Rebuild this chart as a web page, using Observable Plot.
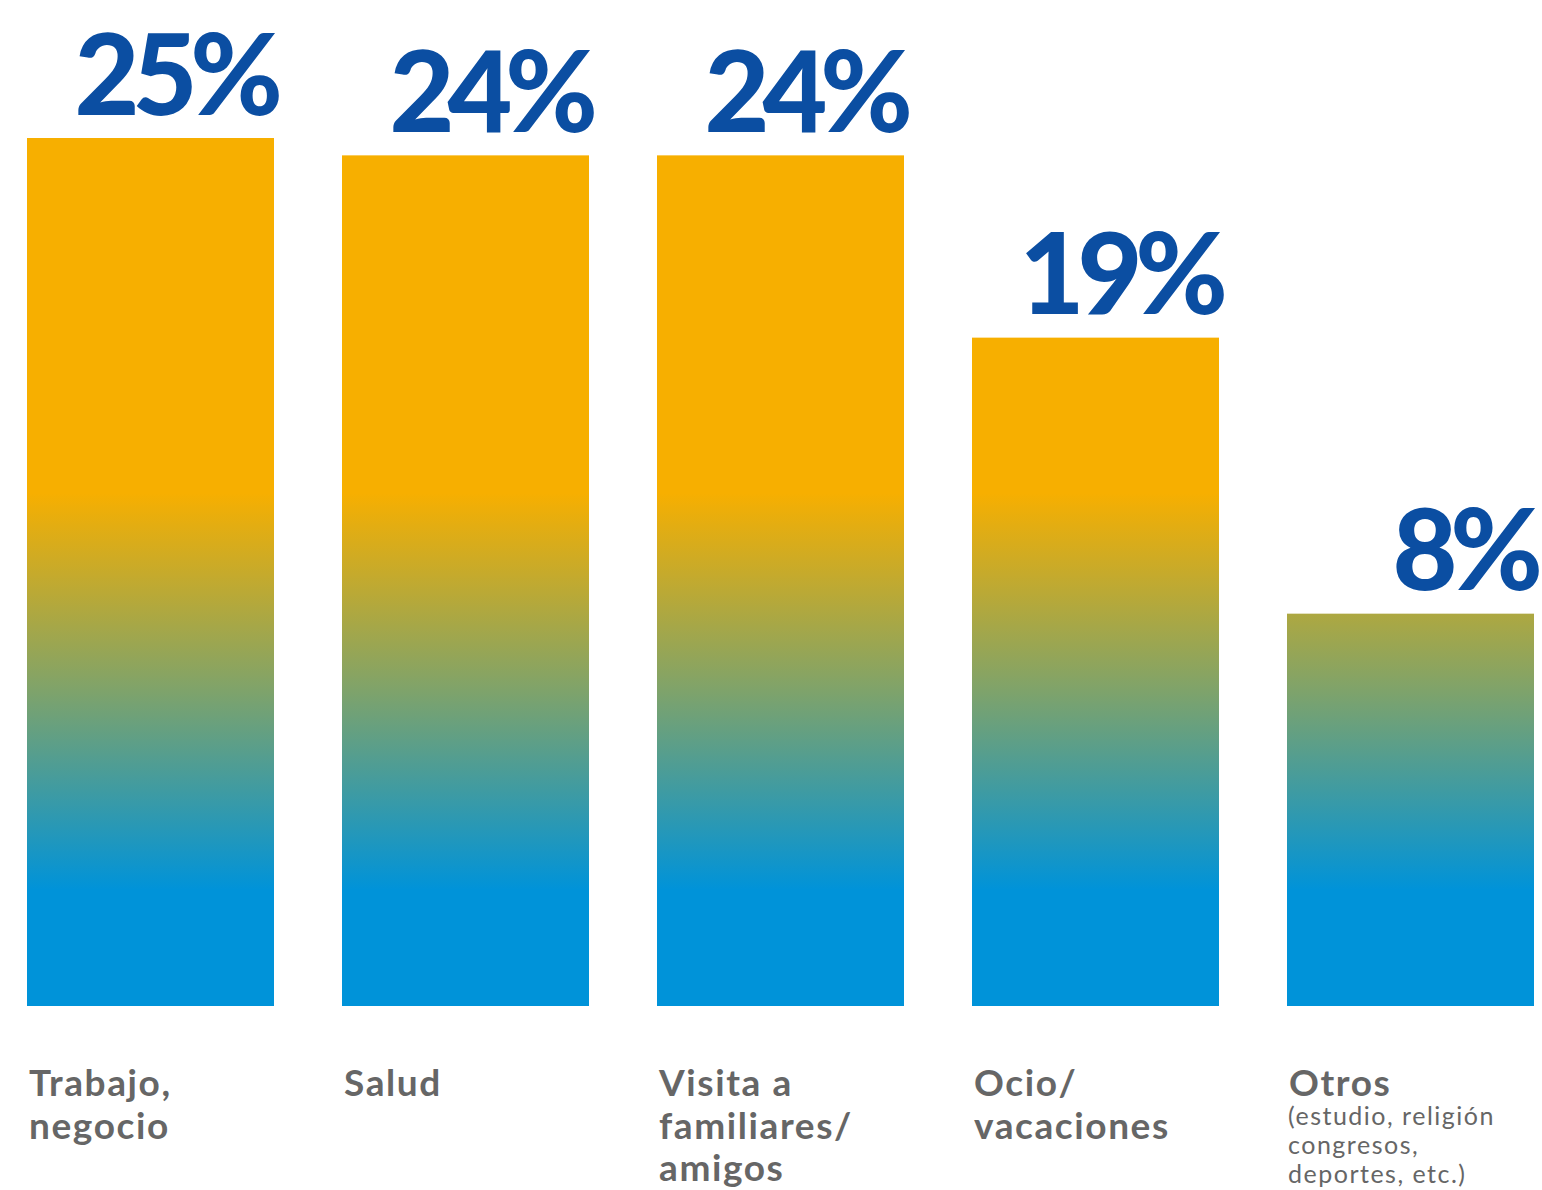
<!DOCTYPE html>
<html>
<head>
<meta charset="utf-8">
<script src="https://cdn.jsdelivr.net/npm/d3@7"></script>
<script src="https://cdn.jsdelivr.net/npm/@observablehq/plot@0.6"></script>
<style>
  html, body { margin: 0; padding: 0; background: #fff; }
  #chart svg { display: block; }
</style>
</head>
<body>
<div id="chart"></div>
<script>
// Categories (as shown under each bar)
const categories = ["Trabajo,\nnegocio", "Salud", "Visita a\nfamiliares/\namigos", "Ocio/\nvacaciones", "Otros"];
// Percentages printed above each bar
const percentLabels = [25, 24, 24, 19, 8];
// Bar heights as drawn in the picture (in % units; the infographic is not strictly proportional)
const barHeights = [25, 24.5, 24.5, 19.25, 11.3];
// Secondary note under the last category
const noteCategory = "Otros";
const noteText = "(estudio, religión\ncongresos,\ndeportes, etc.)";

const data = categories.map((c, i) => ({ cat: c, pct: percentLabels[i], h: barHeights[i] }));

const plot = Plot.plot({
  width: 1542,
  height: 1190,
  marginTop: 138,
  marginBottom: 184,
  marginLeft: 25,
  marginRight: 6,
  style: { fontFamily: "Lato, 'Noto Sans', sans-serif", background: "#fff" },
  x: { domain: categories, paddingInner: 0.2146, paddingOuter: 0, axis: null },
  y: { domain: [0, 25], axis: null },
  marks: [
    Plot.barY(data, { x: "cat", y: "h", fill: "url(#barGrad)" }),
    Plot.text(data, {
      x: "cat", y: "h", text: d => d.pct + "%",
      textAnchor: "end", lineAnchor: "bottom", dx: 125, dy: -24,
      fontSize: 112, fontWeight: 900, fill: "#0B4EA2",
      stroke: null
    }),
    Plot.text(data, {
      x: "cat", text: "cat", frameAnchor: "bottom",
      textAnchor: "start", lineAnchor: "top", dx: -122, dy: 60,
      fontSize: 37, fontWeight: 700, fill: "#666666", lineHeight: 1.14
    }),
    Plot.text([noteText], {
      x: [noteCategory], text: d => d, frameAnchor: "bottom",
      textAnchor: "start", lineAnchor: "top", dx: -123, dy: 98,
      fontSize: 25, fontWeight: 400, fill: "#666666", lineHeight: 1.16
    })
  ]
});

// gradient fixed in page space so all bars share the same colour bands
const svg = d3.select(plot);
const defs = svg.insert("defs", ":first-child");
const g = defs.append("linearGradient")
  .attr("id", "barGrad")
  .attr("gradientUnits", "userSpaceOnUse")
  .attr("x1", 0).attr("x2", 0).attr("y1", 493).attr("y2", 890);
g.append("stop").attr("offset", 0).attr("stop-color", "#F7AF00");
g.append("stop").attr("offset", 0.5).attr("stop-color", "#7EA36B");
g.append("stop").attr("offset", 1).attr("stop-color", "#0093D9");

svg.selectAll("text").style("letter-spacing", function() {
  const fs = +this.closest("g").getAttribute("font-size");
  if (fs > 100) return "-7px";
  if (fs >= 37) return "1.6px";
  return "1.5px";
});

document.getElementById("chart").appendChild(plot);
</script>
</body>
</html>
